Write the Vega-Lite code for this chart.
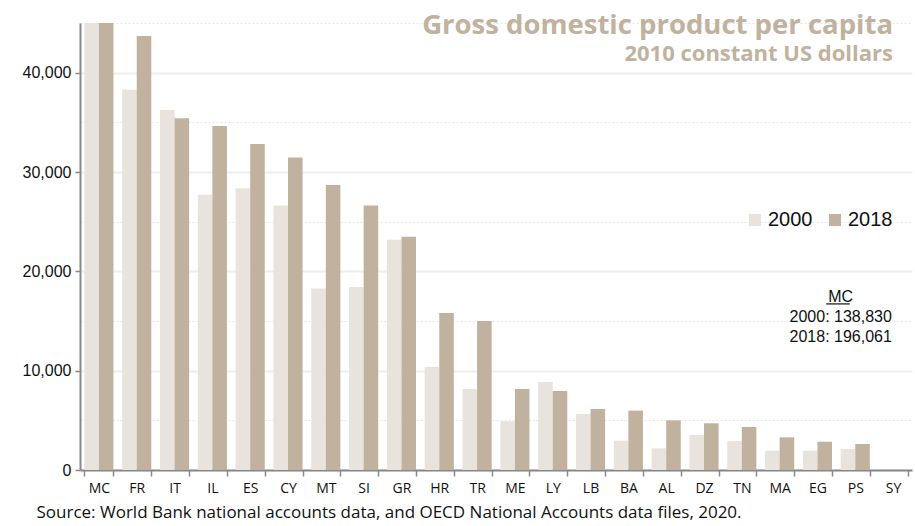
{
  "$schema": "https://vega.github.io/schema/vega-lite/v6.json",
  "width": 832,
  "height": 447,
  "autosize": "none",
  "padding": {"left": 80, "top": 23, "right": 3, "bottom": 56},
  "background": "white",
  "config": {"font": "Open Sans", "view": {"stroke": null}},
  "title": {
    "text": "Gross domestic product per capita",
    "subtitle": "2010 constant US dollars",
    "anchor": "end",
    "orient": "top",
    "frame": "group",
    "offset": -42,
    "dx": -19,
    "fontSize": 27.5,
    "fontWeight": "bold",
    "color": "#c0b29e",
    "subtitleFontSize": 22,
    "subtitleFontWeight": "bold",
    "subtitleColor": "#c0b29e",
    "subtitlePadding": 5
  },
  "data": {
    "values": [
      {"country": "MC", "year": "2000", "gdp": 138830},
      {"country": "MC", "year": "2018", "gdp": 196061},
      {"country": "FR", "year": "2000", "gdp": 38270},
      {"country": "FR", "year": "2018", "gdp": 43700},
      {"country": "IT", "year": "2000", "gdp": 36250},
      {"country": "IT", "year": "2018", "gdp": 35420},
      {"country": "IL", "year": "2000", "gdp": 27700},
      {"country": "IL", "year": "2018", "gdp": 34640},
      {"country": "ES", "year": "2000", "gdp": 28370},
      {"country": "ES", "year": "2018", "gdp": 32830},
      {"country": "CY", "year": "2000", "gdp": 26620},
      {"country": "CY", "year": "2018", "gdp": 31450},
      {"country": "MT", "year": "2000", "gdp": 18260},
      {"country": "MT", "year": "2018", "gdp": 28700},
      {"country": "SI", "year": "2000", "gdp": 18430},
      {"country": "SI", "year": "2018", "gdp": 26620},
      {"country": "GR", "year": "2000", "gdp": 23190},
      {"country": "GR", "year": "2018", "gdp": 23470},
      {"country": "HR", "year": "2000", "gdp": 10370},
      {"country": "HR", "year": "2018", "gdp": 15810},
      {"country": "TR", "year": "2000", "gdp": 8160},
      {"country": "TR", "year": "2018", "gdp": 15000},
      {"country": "ME", "year": "2000", "gdp": 4900},
      {"country": "ME", "year": "2018", "gdp": 8160},
      {"country": "LY", "year": "2000", "gdp": 8860},
      {"country": "LY", "year": "2018", "gdp": 7960},
      {"country": "LB", "year": "2000", "gdp": 5640},
      {"country": "LB", "year": "2018", "gdp": 6140},
      {"country": "BA", "year": "2000", "gdp": 2950},
      {"country": "BA", "year": "2018", "gdp": 5980},
      {"country": "AL", "year": "2000", "gdp": 2180},
      {"country": "AL", "year": "2018", "gdp": 5000},
      {"country": "DZ", "year": "2000", "gdp": 3530},
      {"country": "DZ", "year": "2018", "gdp": 4700},
      {"country": "TN", "year": "2000", "gdp": 2920},
      {"country": "TN", "year": "2018", "gdp": 4330},
      {"country": "MA", "year": "2000", "gdp": 1950},
      {"country": "MA", "year": "2018", "gdp": 3290},
      {"country": "EG", "year": "2000", "gdp": 1950},
      {"country": "EG", "year": "2018", "gdp": 2850},
      {"country": "PS", "year": "2000", "gdp": 2120},
      {"country": "PS", "year": "2018", "gdp": 2620},
      {"country": "SY", "year": "2000", "gdp": null},
      {"country": "SY", "year": "2018", "gdp": null}
    ]
  },
  "layer": [
    {
      "mark": {"type": "bar", "clip": true},
      "encoding": {
        "x": {
          "field": "country",
          "type": "nominal",
          "sort": null,
          "scale": {
            "domain": ["MC","FR","IT","IL","ES","CY","MT","SI","GR","HR","TR","ME","LY","LB","BA","AL","DZ","TN","MA","EG","PS","SY"],
            "paddingInner": 0.23,
            "paddingOuter": 0.115
          },
          "axis": {
            "tickBand": "extent",
            "labelAngle": 0,
            "labelFontSize": 14,
            "labelColor": "#111",
            "labelPadding": 5,
            "domainColor": "#888",
            "domainWidth": 2,
            "tickColor": "#888",
            "tickWidth": 1.5,
            "tickSize": 6,
            "grid": false,
            "title": "Source: World Bank national accounts data, and OECD National Accounts data files, 2020.",
            "titleFontSize": 17,
            "titleFontWeight": "normal",
            "titleColor": "#111",
            "titleAnchor": "start",
            "titleAlign": "left",
            "titleBaseline": "alphabetic",
            "titleX": -44,
            "titleY": 47
          }
        },
        "xOffset": {"field": "year", "type": "nominal", "scale": {"paddingInner": 0}},
        "y": {
          "field": "gdp",
          "type": "quantitative",
          "scale": {"domain": [0, 45000], "nice": false},
          "axis": {
            "values": [0,5000,10000,15000,20000,25000,30000,35000,40000,45000],
            "labelExpr": "datum.value % 10000 === 0 ? format(datum.value, ',') : ''",
            "labelFont": "Liberation Sans",
            "labelFontSize": 16,
            "labelColor": "#111",
            "labelPadding": 4,
            "title": null,
            "domainColor": "#888",
            "domainWidth": 2,
            "tickColor": "#888",
            "tickWidth": 1.5,
            "tickSize": 5,
            "tickOpacity": {"condition": {"test": "datum.value % 10000 === 0", "value": 1}, "value": 0},
            "grid": true,
            "gridColor": {"condition": {"test": "datum.value % 10000 === 0", "value": "#eeeeee"}, "value": "#e6e6e6"},
            "gridWidth": {"condition": {"test": "datum.value % 10000 === 0", "value": 2}, "value": 1},
            "gridDash": {"condition": {"test": "datum.value % 10000 === 0", "value": []}, "value": [2, 2]}
          }
        },
        "color": {
          "field": "year",
          "type": "nominal",
          "scale": {"domain": ["2000", "2018"], "range": ["#e8e3dd", "#c0b29e"]},
          "legend": {
            "orient": "none",
            "legendX": 665,
            "legendY": 187,
            "direction": "horizontal",
            "title": null,
            "symbolType": "square",
            "symbolSize": 144,
            "symbolStrokeWidth": 0,
            "labelFont": "Liberation Sans",
            "labelFontSize": 20,
            "labelColor": "#111",
            "labelOffset": 3,
            "columnPadding": 12
          }
        }
      }
    },
    {
      "data": {"values": [{"note": "MC"}]},
      "mark": {"type": "text", "align": "center", "baseline": "alphabetic", "font": "Liberation Sans", "fontSize": 16, "lineHeight": 20, "color": "#111"},
      "encoding": {
        "x": {"datum": "PS", "bandPosition": 0},
        "y": {"datum": 16900},
        "text": {"value": ["MC", "2000: 138,830", "2018: 196,061"]}
      }
    },
    {
      "data": {"values": [{"note": "MC"}]},
      "mark": {"type": "rule", "color": "#111", "strokeWidth": 1.2},
      "encoding": {
        "x": {"datum": "EG", "bandPosition": 0.8},
        "x2": {"datum": "PS", "bandPosition": 0.31},
        "y": {"datum": 16720}
      }
    }
  ]
}
